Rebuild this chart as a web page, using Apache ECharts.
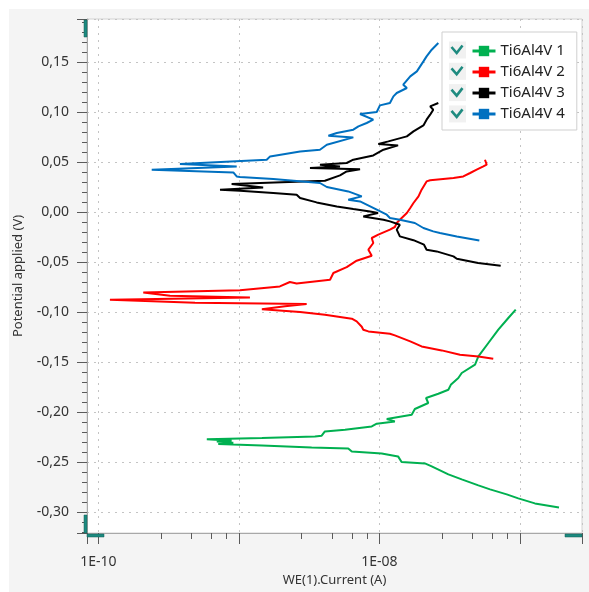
<!DOCTYPE html>
<html>
<head>
<meta charset="utf-8">
<script src="https://cdn.jsdelivr.net/npm/echarts@6.0.0/dist/echarts.min.js"></script>
<style>
  html, body { margin: 0; padding: 0; background: #ffffff; }
  #panel { position: absolute; left: 9px; top: 9px; width: 580px; height: 583px; background: #f4f4f4; }
  #chart { position: absolute; left: 0; top: 0; width: 589px; height: 592px; }
</style>
</head>
<body>
<div id="panel"></div>
<div id="chart"></div>
<script>
// Potentiodynamic polarization scans of four Ti6Al4V samples.
// Each scan: measured current (A) and applied potential (V), in scan order.
const seriesNames = ['Ti6Al4V 1', 'Ti6Al4V 2', 'Ti6Al4V 3', 'Ti6Al4V 4'];
const seriesColors = ['#00b050', '#ff0000', '#000000', '#0070c0'];

const sample1Current = [1.90e-7,1.28e-7,9.75e-8,8.07e-8,6.14e-8,5.07e-8,3.86e-8,3.10e-8,2.36e-8,2.11e-8,1.44e-8,1.36e-8,1.04e-8,6.37e-9,6.01e-9,3.30e-9,1.46e-9,7.14e-10,9.14e-10,6.97e-10,8.89e-10,5.92e-10,1.46e-9,3.48e-9,3.89e-9,4.10e-9,5.70e-9,8.83e-9,9.59e-9,1.29e-8,1.13e-8,1.70e-8,1.79e-8,2.23e-8,2.15e-8,2.63e-8,3.10e-8,3.24e-8,3.65e-8,3.86e-8,4.80e-8,5.07e-8,5.97e-8,7.03e-8,8.28e-8,9.35e-8];
const sample1Potential = [-0.295,-0.291,-0.286,-0.282,-0.277,-0.273,-0.267,-0.262,-0.254,-0.251,-0.2496,-0.244,-0.241,-0.239,-0.236,-0.235,-0.233,-0.2316,-0.2303,-0.229,-0.2283,-0.2268,-0.2256,-0.224,-0.2233,-0.219,-0.2173,-0.214,-0.2113,-0.209,-0.2066,-0.2023,-0.1966,-0.1906,-0.1856,-0.1813,-0.1773,-0.172,-0.1656,-0.1606,-0.1523,-0.144,-0.1306,-0.1173,-0.1056,-0.0973];

const sample2Current = [6.47e-8,5.07e-8,3.75e-8,2.78e-8,2.00e-8,1.66e-8,1.29e-8,1.19e-8,8.36e-9,7.69e-9,7.50e-9,7.69e-9,6.90e-9,6.37e-9,4.10e-9,2.73e-9,1.46e-9,2.13e-9,3.04e-9,4.88e-10,1.21e-10,1.20e-9,3.24e-10,2.09e-10,1.02e-9,1.96e-9,2.31e-9,2.58e-9,4.46e-9,4.71e-9,5.86e-9,6.90e-9,8.83e-9,8.36e-9,9.06e-9,8.83e-9,9.84e-9,1.19e-8,1.29e-8,1.33e-8,1.40e-8,1.57e-8,1.66e-8,1.75e-8,1.90e-8,2.00e-8,2.17e-8,2.30e-8,3.37e-8,3.96e-8,4.43e-8,4.93e-8,5.50e-8,5.81e-8,5.65e-8];
const sample2Potential = [-0.1463,-0.144,-0.1423,-0.138,-0.134,-0.129,-0.123,-0.1213,-0.119,-0.1173,-0.1143,-0.1123,-0.109,-0.1063,-0.1023,-0.0996,-0.0968,-0.0938,-0.0916,-0.0903,-0.0873,-0.085,-0.0833,-0.080,-0.0778,-0.074,-0.0696,-0.071,-0.0673,-0.0606,-0.0548,-0.0483,-0.0433,-0.0373,-0.0306,-0.0256,-0.0223,-0.0173,-0.0146,-0.0106,-0.0073,-0.0006,0.0044,0.0094,0.016,0.0227,0.031,0.0322,0.0344,0.036,0.0394,0.0427,0.046,0.0477,0.0527];

const sample3Current = [7.31e-8,5.05e-8,3.56e-8,3.37e-8,2.56e-8,2.17e-8,2.08e-8,1.75e-8,1.40e-8,1.33e-8,1.40e-8,1.19e-8,1.07e-8,7.69e-9,9.79e-9,8.59e-9,6.53e-9,4.98e-9,3.58e-9,2.73e-9,2.58e-9,1.76e-9,1.02e-9,7.35e-10,1.49e-9,8.89e-10,9.14e-10,4.10e-9,5.25e-9,5.86e-9,7.29e-9,3.21e-9,5.25e-9,3.78e-9,5.86e-9,6.53e-9,9.06e-9,1.07e-8,1.36e-8,9.84e-9,1.16e-8,1.57e-8,1.75e-8,2.06e-8,2.17e-8,2.30e-8,2.42e-8,2.30e-8,2.63e-8];
const sample3Potential = [-0.0533,-0.0506,-0.0463,-0.044,-0.039,-0.0373,-0.0323,-0.0278,-0.024,-0.0173,-0.0123,-0.009,-0.0073,-0.004,-0.0006,0.001,0.0034,0.006,0.010,0.0144,0.0177,0.0194,0.0217,0.0227,0.025,0.0284,0.0304,0.0317,0.037,0.041,0.0432,0.0443,0.046,0.0477,0.0494,0.0527,0.057,0.0627,0.067,0.0684,0.071,0.076,0.081,0.087,0.0927,0.0977,0.1027,0.106,0.1094];

const sample4Current = [5.15e-8,3.56e-8,2.70e-8,2.42e-8,2.06e-8,1.79e-8,1.40e-8,1.19e-8,1.13e-8,9.59e-9,7.29e-9,6.01e-9,7.50e-9,6.01e-9,4.23e-9,3.78e-9,1.76e-9,1.02e-9,9.66e-10,9.14e-10,2.40e-10,9.66e-10,3.81e-10,1.58e-9,1.67e-9,2.73e-9,3.78e-9,4.23e-9,6.53e-9,4.34e-9,4.98e-9,6.53e-9,7.10e-9,8.13e-9,9.06e-9,7.29e-9,9.59e-9,1.01e-8,1.19e-8,1.26e-8,1.33e-8,1.57e-8,1.48e-8,1.66e-8,1.85e-8,2.06e-8,2.17e-8,2.36e-8,2.63e-8];
const sample4Potential = [-0.028,-0.024,-0.0206,-0.019,-0.0156,-0.0106,-0.0073,-0.0056,-0.0023,0.0027,0.011,0.0127,0.016,0.021,0.0254,0.0294,0.0334,0.0354,0.036,0.040,0.0427,0.046,0.0484,0.0527,0.056,0.061,0.0627,0.0677,0.075,0.0767,0.0794,0.0827,0.086,0.0894,0.0927,0.0984,0.1004,0.107,0.1094,0.116,0.1194,0.1244,0.1277,0.136,0.141,0.151,0.156,0.1627,0.1694];

// Decade labels shown on the current axis
const xLabelExponents = [-10, -8];
const xLabelTexts = ['1E-10', '1E-08'];

const currents = [sample1Current, sample2Current, sample3Current, sample4Current];
const potentials = [sample1Potential, sample2Potential, sample3Potential, sample4Potential];

const FONT = 'Noto Sans';
const chart = echarts.init(document.getElementById('chart'), null, { renderer: 'canvas' });

const series = seriesNames.map((name, i) => ({
  name: name,
  type: 'line',
  data: currents[i].map((c, k) => [c, potentials[i][k]]),
  symbol: 'rect',
  showSymbol: false,
  color: seriesColors[i],
  lineStyle: { width: 2, color: seriesColors[i] },
  itemStyle: { color: seriesColors[i] },
  emphasis: { disabled: true }
}));

// Legend check boxes
const checks = [];
for (let i = 0; i < 4; i++) {
  const cy = 50 + i * 21.3;
  checks.push({ type: 'rect', shape: { x: 449, y: cy - 8.5, width: 17, height: 17 }, style: { fill: '#f1f1f1' }, z: 20 });
  checks.push({ type: 'polyline', shape: { points: [[451.5, cy - 3], [456.7, cy + 3], [462.5, cy - 4.5]] },
    style: { stroke: '#1f8b80', lineWidth: 2.6, fill: null }, z: 21 });
}

// Axis range handles at the plot corners
const handles = [
  { type: 'rect', shape: { x: 84, y: 20, width: 3, height: 17 }, style: { fill: '#1c8a80', stroke: '#125c55', lineWidth: 0.5 }, z: 20 },
  { type: 'rect', shape: { x: 84, y: 515, width: 3, height: 18 }, style: { fill: '#1c8a80', stroke: '#125c55', lineWidth: 0.5 }, z: 20 },
  { type: 'rect', shape: { x: 87, y: 534, width: 17, height: 3 }, style: { fill: '#1c8a80', stroke: '#125c55', lineWidth: 0.5 }, z: 20 },
  { type: 'rect', shape: { x: 565, y: 534, width: 17, height: 3 }, style: { fill: '#1c8a80', stroke: '#125c55', lineWidth: 0.5 }, z: 20 }
];

const option = {
  animation: false,
  backgroundColor: 'transparent',
  textStyle: { fontFamily: FONT },
  grid: {
    left: 87, right: 7, top: 19, bottom: 59,
    show: true, backgroundColor: '#ffffff', borderColor: '#d2d2d2', borderWidth: 1
  },
  legend: {
    data: seriesNames,
    orient: 'vertical',
    left: 442, top: 32,
    padding: [11, 12, 8, 29],
    itemWidth: 23, itemHeight: 13, itemGap: 5,
    backgroundColor: '#ffffff',
    borderColor: '#cfcfcf', borderWidth: 1, borderRadius: 0,
    selectedMode: false,
    lineStyle: { width: 3 },
    textStyle: { fontFamily: FONT, fontSize: 15, color: '#222', lineHeight: 16 }
  },
  xAxis: {
    type: 'log',
    logBase: 10,
    min: 8.31e-11,
    max: 2.77e-7,
    name: 'WE(1).Current (A)',
    nameLocation: 'middle',
    nameGap: 37,
    nameTextStyle: { fontFamily: FONT, fontSize: 13, color: '#333' },
    axisLine: { show: true, onZero: false, lineStyle: { color: '#a8a8a8', width: 1 } },
    axisTick: { show: true, length: 11, lineStyle: { color: '#5a5a5a', width: 1 } },
    minorTick: { show: true, splitNumber: 5, length: 6, lineStyle: { color: '#5a5a5a', width: 1 } },
    axisLabel: {
      margin: 22,
      fontFamily: FONT, fontSize: 14, color: '#333',
      formatter: function (v) {
        const e = Math.log10(v);
        const k = Math.round(e);
        if (Math.abs(e - k) > 1e-6) return '';
        const idx = xLabelExponents.indexOf(k);
        return idx >= 0 ? xLabelTexts[idx] : '';
      }
    },
    splitLine: { show: true, lineStyle: { color: '#c4c4c4', type: [2, 5], width: 1 } }
  },
  yAxis: {
    type: 'value',
    min: -0.3206,
    max: 0.1934,
    splitNumber: 10,
    minInterval: 0.05,
    maxInterval: 0.05,
    name: 'Potential applied (V)',
    nameLocation: 'middle',
    nameGap: 62,
    nameTextStyle: { fontFamily: FONT, fontSize: 13, color: '#333' },
    axisLine: { show: true, onZero: false, lineStyle: { color: '#a8a8a8', width: 1 } },
    axisTick: { show: true, length: 10, lineStyle: { color: '#5a5a5a', width: 1 } },
    minorTick: { show: true, splitNumber: 5, length: 5, lineStyle: { color: '#5a5a5a', width: 1 } },
    axisLabel: {
      margin: 18,
      fontFamily: FONT, fontSize: 14, color: '#333',
      formatter: function (v) {
        const r = Math.round(v / 0.05);
        if (Math.abs(v / 0.05 - r) > 1e-6) return '';
        return (r * 0.05).toFixed(2).replace('.', ',');
      }
    },
    splitLine: { show: true, lineStyle: { color: '#c4c4c4', type: [2, 5], width: 1 } }
  },
  graphic: checks.concat(handles),
  series: series
};

chart.setOption(option);
</script>
</body>
</html>
